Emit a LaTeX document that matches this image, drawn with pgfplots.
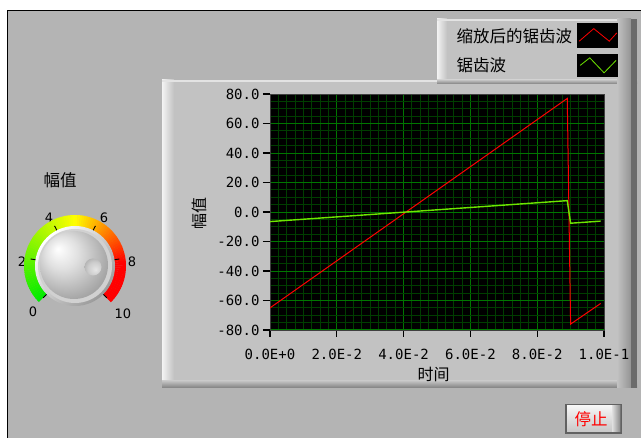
\documentclass[border=0pt]{standalone}
\usepackage{pgfplots}
\pgfplotsset{compat=1.18}
\usepackage{fontspec}
\newfontfamily\cjk{Noto Sans CJK SC}
\newfontfamily\mono{DejaVu Sans Mono}
\newfontfamily\dsans{DejaVu Sans}
\definecolor{panel}{RGB}{180,180,180}
\definecolor{face}{RGB}{194,194,194}
\definecolor{gmaj}{RGB}{0,118,0}
\definecolor{gmin}{RGB}{0,62,0}
\definecolor{sawgreen}{RGB}{110,230,0}
\pgfdeclareradialshading{knobshade}{\pgfpoint{-12bp}{12bp}}{color(0bp)=(white); color(12bp)=(black!12); color(30bp)=(black!35); color(45bp)=(black!48); color(50bp)=(black!55)}
\pgfdeclareradialshading{dimpleshade}{\pgfpoint{8bp}{-8bp}}{color(0bp)=(black!10); color(20bp)=(black!20); color(40bp)=(black!38); color(50bp)=(black!45)}
\begin{document}
\begin{tikzpicture}
\useasboundingbox (0pt,0pt) rectangle (641pt,-438pt);
\begin{scope}[x=1pt,y=-1pt]
  \fill[white] (0,0) rectangle (641,438);
  \fill[panel] (7,10) rectangle (641,438);
  \draw[black,line width=1.4pt] (7.7,438) -- (7.7,10.7) -- (641,10.7);
  % graph frame
  \fill[face] (162,80) rectangle (637,388);
  \shade[left color=white!80!face, right color=face] (162,80) rectangle (174,388);
  \fill[white!55!face] (162,80) rectangle (637,82);
  \shade[top color=face, bottom color=black!50] (162,381) rectangle (637,388);
  \shade[left color=face, right color=black!42] (617,80) rectangle (631,388);
  \fill[black!58] (631,80) rectangle (637,388);
  % legend frame
  \fill[face] (437,19) rectangle (637,84);
  \shade[left color=white!80!face, right color=face] (437,19) rectangle (447,84);
  \fill[white!55!face] (437,19) rectangle (637,21);
  \shade[top color=face, bottom color=black!50] (437,80) rectangle (637,84);
  \shade[left color=face, right color=black!42] (617,19) rectangle (631,84);
  \fill[black!58] (631,19) rectangle (637,84);
  % knob label
  \node[font=\cjk\fontsize{16.5}{18}\selectfont] at (60,180) {幅值};
  % stop button
  \fill[black!62] (565,404) rectangle (622,434);
  \shade[top color=white!92!gray, bottom color=black!22] (567,406) rectangle (620,432);
  \shade[left color=black!12, right color=black!45] (612,406) rectangle (620,432);
  \node[text=red, font=\cjk\fontsize{16.5}{18}\selectfont] at (591,419) {停止};
  % knob labels
  \begin{scope}[font=\dsans\fontsize{13}{14}\selectfont]
    \node at (33,312) {0};
    \node at (22,262) {2};
    \node at (49,218) {4};
    \node at (104,218) {6};
    \node at (132,262) {8};
    \node at (123,314) {10};
  \end{scope}
\end{scope}
% knob
\begin{scope}[shift={(75pt,-266pt)}]
  \foreach \i in {0,...,99} {
    \pgfmathsetmacro\a{225-2.7*\i}
    \pgfmathsetmacro\b{225-2.7*(\i+1)-0.4}
    \pgfmathsetmacro\v{(\i+0.5)/10}
    \pgfmathtruncatemacro\R{\v<5 ? 255*\v/5 : 255}
    \pgfmathtruncatemacro\G{\v<5 ? 235+20*\v/5 : (\v<8.2 ? 255*(8.2-\v)/3.2 : 0)}
    \definecolor{arcc}{RGB}{\R,\G,0}
    \fill[arcc] (\a:39pt) -- (\a:51pt) arc[start angle=\a, end angle=\b, radius=51pt] -- (\b:39pt) arc[start angle=\b, end angle=\a, radius=39pt] -- cycle;
  }
  \foreach \k in {0,...,5} {
    \pgfmathsetmacro\ang{225-54*\k}
    \draw[black, line width=0.9pt] (\ang:37pt) -- (\ang:45pt);
  }
  \shade[left color=white, right color=black!40, shading angle=45] (0,0) circle (40pt);
  \fill[black!18] (0,0) circle (37pt);
  \shade[shading=knobshade] (-1pt,1pt) circle (34pt);
  \shade[shading=dimpleshade] (18pt,-1pt) circle (8.5pt);
\end{scope}
\begin{axis}[
  at={(270pt,-330pt)}, anchor=south west,
  scale only axis, width=334pt, height=236pt,
  xmin=0, xmax=0.1, ymin=-80, ymax=80,
  axis background/.style={fill=black},
  axis line style={draw=black!75, line width=0.8pt},
  xtick={0,0.02,0.04,0.06,0.08,0.1},
  xticklabels={0.0E+0,2.0E-2,4.0E-2,6.0E-2,8.0E-2,1.0E-1},
  ytick={-80,-60,-40,-20,0,20,40,60,80},
  yticklabels={-80.0,-60.0,-40.0,-20.0,0.0,20.0,40.0,60.0,80.0},
  minor x tick num=7, minor y tick num=3,
  tick pos=left,
  grid=both,
  major grid style={draw=gmaj, line width=1pt},
  minor grid style={draw=gmin, line width=1pt},
  tick align=outside, major tick length=7pt, minor tick length=0pt,
  major tick style={draw=black, line width=1.3pt},
  ticklabel style={font=\mono\fontsize{14}{16}\selectfont},
  xticklabel style={yshift=-9pt},
  xlabel={时间}, ylabel={幅值},
  label style={font=\cjk\fontsize{16}{18}\selectfont},
  xlabel style={at={(axis description cs:0.49,-0.19)}, anchor=center},
  ylabel style={at={(axis description cs:-0.21,0.495)}, anchor=center},
  legend plot pos=right,
  legend cell align=left,
  legend style={at={(axis description cs:0.555,1.30)}, anchor=north west,
    draw=none, fill=none, inner sep=0pt, row sep=6pt,
    font=\cjk\fontsize{16.5}{18}\selectfont,
    nodes={inner sep=1pt},
    /tikz/every odd column/.append style={column sep=4pt}},
]
\addplot[red, line width=1pt,
  legend image code/.code={\fill[black] (0pt,-12pt) rectangle (40pt,12pt);
    \draw[red, line width=0.8pt] (1.4pt,-5.3pt) -- (16pt,7.3pt) -- (31.5pt,-5.3pt) -- (39pt,3pt);}]
  coordinates {(0,-65) (0.089,77) (0.090,-76) (0.099,-62)};
\addlegendentry{缩放后的锯齿波}
\addplot[sawgreen, line width=1.4pt,
  legend image code/.code={\fill[black] (0pt,-10.5pt) rectangle (40pt,10.5pt);
    \draw[sawgreen, line width=0.8pt] (2.4pt,0.2pt) -- (12pt,7.8pt) -- (26.3pt,-7.2pt) -- (38.3pt,5.2pt);}]
  coordinates {(0,-6.5) (0.089,7.7) (0.090,-7.6) (0.099,-6.2)};
\addlegendentry{锯齿波}
\end{axis}
\end{tikzpicture}
\end{document}
